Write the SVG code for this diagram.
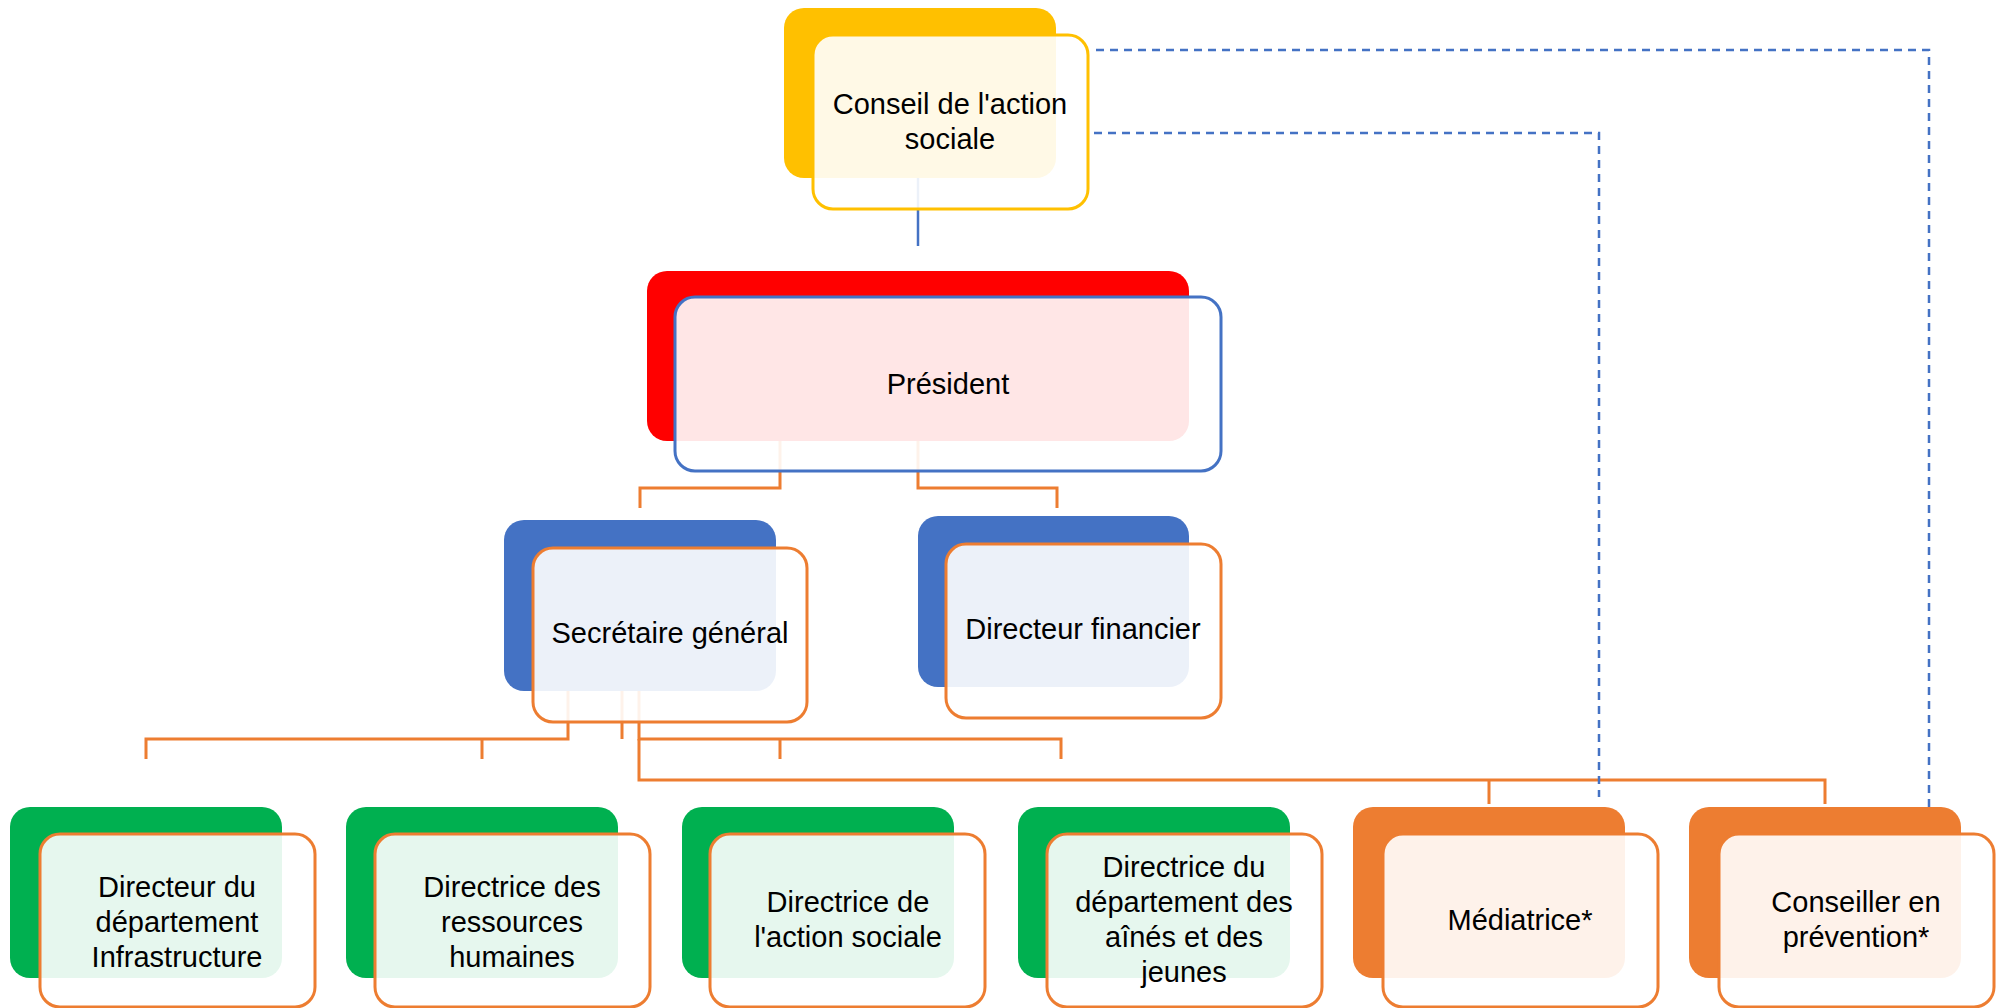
<svg xmlns="http://www.w3.org/2000/svg" width="2002" height="1008" viewBox="0 0 2002 1008">
<style>
.bk{stroke:none}
.fr{fill:#fff;fill-opacity:0.9;stroke-width:3}
.t{font-family:"Liberation Sans",Arial,sans-serif;font-size:29px;fill:#000;text-anchor:middle}
.oc{fill:none;stroke:#ED7D31;stroke-width:3}
.bc{fill:none;stroke:#4472C4;stroke-width:2.5}
.dc{fill:none;stroke:#4472C4;stroke-width:2.5;stroke-dasharray:8 6}
</style>
<rect width="2002" height="1008" fill="#fff"/>
<g id="connectors">
<path class="bc" d="M918,170 V246"/>
<path class="oc" d="M780,430 V488 H640 V508"/>
<path class="oc" d="M918,430 V488 H1057 V508"/>
<path class="oc" d="M568,680 V739 H146 V759"/>
<path class="oc" d="M622,680 V739"/>
<path class="oc" d="M482,739 V759"/>
<path class="oc" d="M639,680 V739 H1061 V759"/>
<path class="oc" d="M780,739 V759"/>
<path class="oc" d="M639,739 V780 H1825 V804"/>
<path class="oc" d="M1489,780 V804"/>
<path class="dc" d="M1096,50 H1929 V807"/>
<path class="dc" d="M1094,133 H1599 V797"/>
</g>
<g id="conseil">
<rect class="bk" x="784" y="8" width="272" height="170" rx="20" fill="#FFC000"/>
<rect class="fr" x="813" y="35" width="275" height="174" rx="20" stroke="#FFC000"/>
<text class="t" x="950" y="114">Conseil de l'action</text>
<text class="t" x="950" y="149">sociale</text>
</g>
<g id="president">
<rect class="bk" x="647" y="271" width="542" height="170" rx="20" fill="#FF0000"/>
<rect class="fr" x="675" y="297" width="546" height="174" rx="20" stroke="#4472C4"/>
<text class="t" x="948" y="394">Président</text>
</g>
<g id="secretaire">
<rect class="bk" x="504" y="520" width="272" height="171" rx="20" fill="#4472C4"/>
<rect class="fr" x="533" y="548" width="274" height="174" rx="20" stroke="#ED7D31"/>
<text class="t" x="670" y="643">Secrétaire général</text>
</g>
<g id="directeur-financier">
<rect class="bk" x="918" y="516" width="271" height="171" rx="20" fill="#4472C4"/>
<rect class="fr" x="946" y="544" width="275" height="174" rx="20" stroke="#ED7D31"/>
<text class="t" x="1083" y="639">Directeur financier</text>
</g>
<g id="infrastructure">
<rect class="bk" x="10" y="807" width="272" height="171" rx="20" fill="#00B050"/>
<rect class="fr" x="40" y="834" width="275" height="173" rx="20" stroke="#ED7D31"/>
<text class="t" x="177" y="897">Directeur du</text>
<text class="t" x="177" y="932">département</text>
<text class="t" x="177" y="967">Infrastructure</text>
</g>
<g id="ressources-humaines">
<rect class="bk" x="346" y="807" width="272" height="171" rx="20" fill="#00B050"/>
<rect class="fr" x="375" y="834" width="275" height="173" rx="20" stroke="#ED7D31"/>
<text class="t" x="512" y="897">Directrice des</text>
<text class="t" x="512" y="932">ressources</text>
<text class="t" x="512" y="967">humaines</text>
</g>
<g id="action-sociale">
<rect class="bk" x="682" y="807" width="272" height="171" rx="20" fill="#00B050"/>
<rect class="fr" x="710" y="834" width="275" height="173" rx="20" stroke="#ED7D31"/>
<text class="t" x="848" y="912">Directrice de</text>
<text class="t" x="848" y="947">l'action sociale</text>
</g>
<g id="aines-jeunes">
<rect class="bk" x="1018" y="807" width="272" height="171" rx="20" fill="#00B050"/>
<rect class="fr" x="1047" y="834" width="275" height="173" rx="20" stroke="#ED7D31"/>
<text class="t" x="1184" y="877">Directrice du</text>
<text class="t" x="1184" y="912">département des</text>
<text class="t" x="1184" y="947">aînés et des</text>
<text class="t" x="1184" y="982">jeunes</text>
</g>
<g id="mediatrice">
<rect class="bk" x="1353" y="807" width="272" height="171" rx="20" fill="#ED7D31"/>
<rect class="fr" x="1383" y="834" width="275" height="173" rx="20" stroke="#ED7D31"/>
<text class="t" x="1520" y="930">Médiatrice*</text>
</g>
<g id="conseiller-prevention">
<rect class="bk" x="1689" y="807" width="272" height="171" rx="20" fill="#ED7D31"/>
<rect class="fr" x="1719" y="834" width="275" height="173" rx="20" stroke="#ED7D31"/>
<text class="t" x="1856" y="912">Conseiller en</text>
<text class="t" x="1856" y="947">prévention*</text>
</g>
</svg>
